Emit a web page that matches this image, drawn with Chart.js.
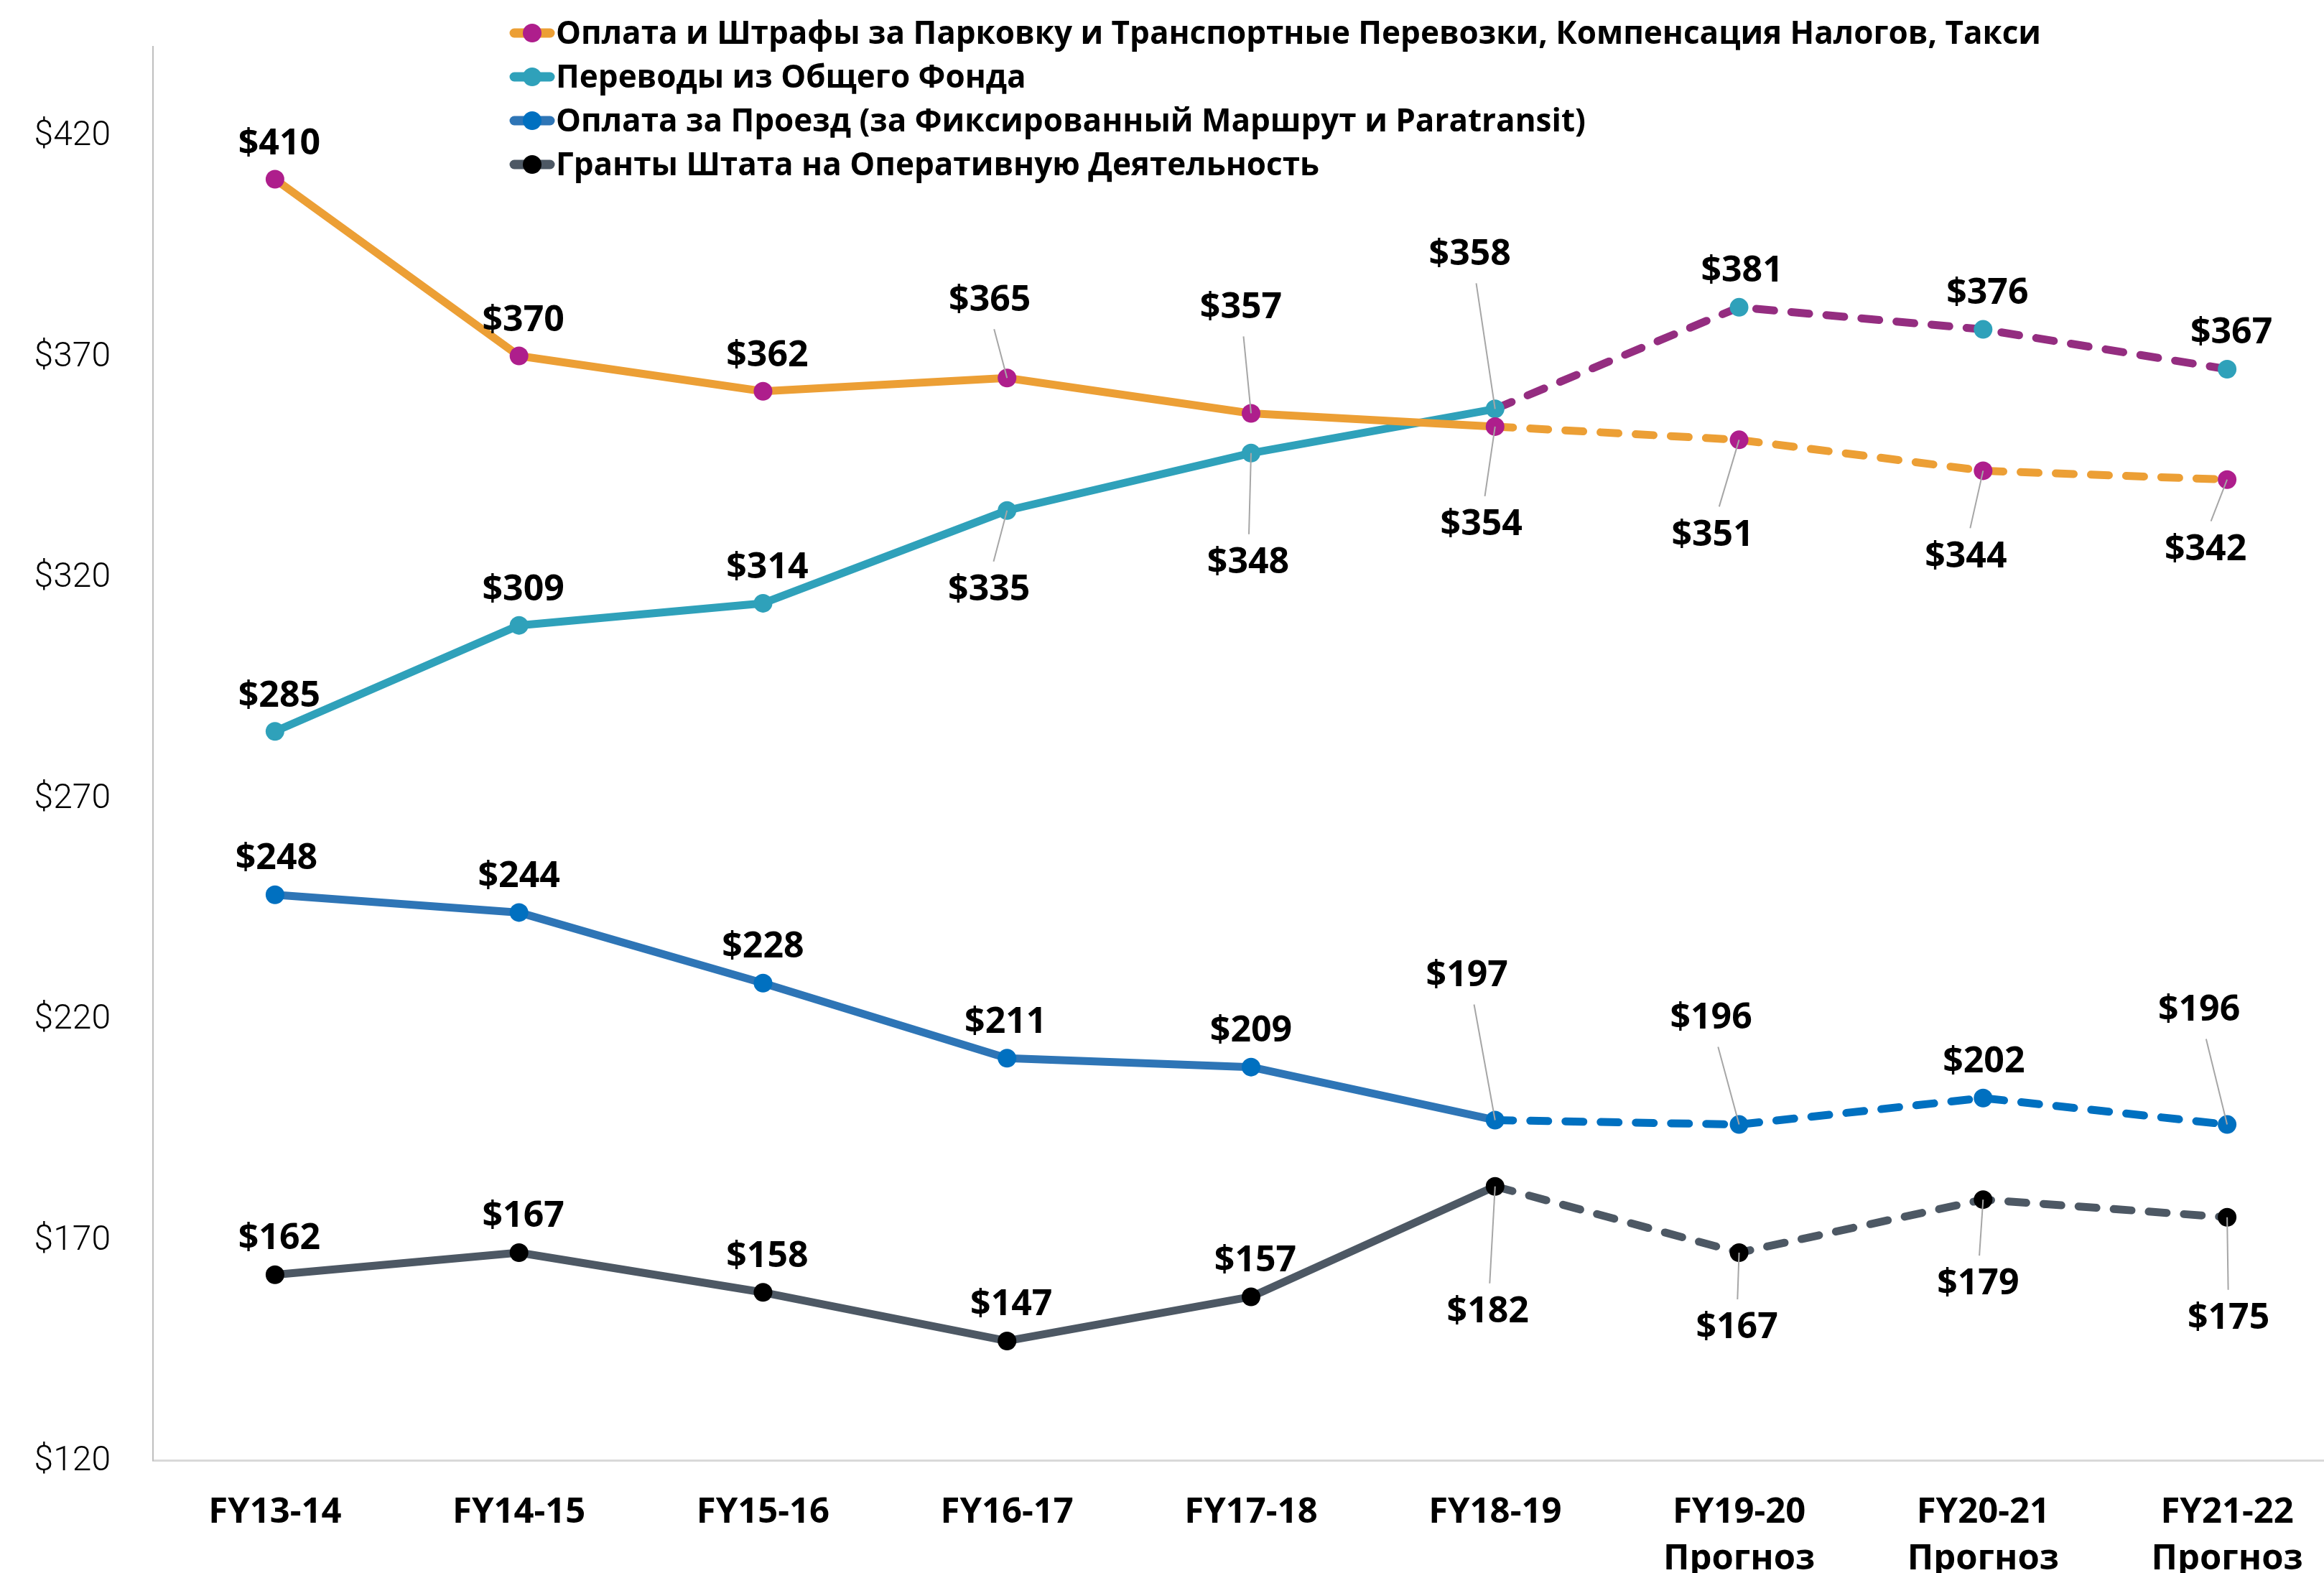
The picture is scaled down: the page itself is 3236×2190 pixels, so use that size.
<!DOCTYPE html>
<html>
<head>
<meta charset="utf-8">
<script src="https://cdn.jsdelivr.net/npm/chart.js@4.4.1/dist/chart.umd.min.js"></script>
<style>
  html, body { margin: 0; background: #fff; overflow: hidden; }
  /* the plot runs a little past the right edge, as in the original */
  #wrap { width: 3236px; height: 2190px; overflow: hidden; }
</style>
</head>
<body>
<div id="wrap"><canvas id="chart" width="3284" height="2190"></canvas></div>
<script>
// categories (forecast years get a second line)
const categories = [
  ['FY13-14'], ['FY14-15'], ['FY15-16'], ['FY16-17'], ['FY17-18'], ['FY18-19'],
  ['FY19-20', 'Прогноз'], ['FY20-21', 'Прогноз'], ['FY21-22', 'Прогноз']
];
const forecastFrom = 5; // segments after this index are dashed

const seriesNames = [
  'Оплата и Штрафы за Парковку и Транспортные Перевозки, Компенсация Налогов, Такси',
  'Переводы из Общего Фонда',
  'Оплата за Проезд (за Фиксированный Маршрут и Paratransit)',
  'Гранты Штата на Оперативную Деятельность'
];
const parkingFees = [410, 370, 362, 365, 357, 354, 351, 344, 342];
const generalFund = [285, 309, 314, 335, 348, 358, 381, 376, 367];
const fares = [248, 244, 228, 211, 209, 197, 196, 202, 196];
const stateGrants = [162, 167, 158, 147, 157, 182, 167, 179, 175];

const yTicks = [120, 170, 220, 270, 320, 370, 420];

// where each value label sits relative to its point (px)
const labelOffsets = [
  [[6, -49], [6, -49], [6, -49], [-24, -108], [-14, -147], [-19, 137], [-37, 133], [-24, 120], [-30, 98]],
  [[6, -49], [6, -49], [6, -49], [-25, 111], [-4, 153], [-35, -215], [4, -50], [6, -50], [6, -50]],
  [[2, -50], [0, -50], [0, -50], [-2, -50], [0, -50], [-39, -201], [-39, -148], [1, -50], [-39, -159]],
  [[6, -50], [6, -50], [6, -50], [6, -50], [6, -50], [-10, 175], [-3, 105], [-7, 118], [2, 141]]
];

const styles = [
  { line: '#EC9F35', dash: '#EC9F35', point: '#AE1E8C' },
  { line: '#2FA1BA', dash: '#942D80', point: '#2FA1BA' },
  { line: '#2E75B6', dash: '#0070C0', point: '#0070C0' },
  { line: '#4D5864', dash: '#4D5864', point: '#000000' }
];

function makeDataset(i, values) {
  const s = styles[i];
  return {
    label: seriesNames[i],
    data: values,
    borderColor: s.line,
    backgroundColor: s.point,
    borderWidth: 11,
    borderCapStyle: 'round',
    borderJoinStyle: 'round',
    pointRadius: 13,
    pointHoverRadius: 13,
    pointBackgroundColor: s.point,
    pointBorderWidth: 0,
    tension: 0,
    segment: {
      borderColor: ctx => ctx.p0DataIndex >= forecastFrom ? s.dash : s.line,
      borderDash: ctx => ctx.p0DataIndex >= forecastFrom ? [25, 24] : []
    }
  };
}

const valueLabels = {
  id: 'valueLabels',
  afterDatasetsDraw(chart) {
    const ctx = chart.ctx;
    ctx.save();
    ctx.font = 'bold 50px "Open Sans"';
    ctx.textAlign = 'center';
    ctx.textBaseline = 'middle';
    chart.data.datasets.forEach((ds, di) => {
      const meta = chart.getDatasetMeta(di);
      meta.data.forEach((pt, i) => {
        const [dx, dy] = labelOffsets[di][i];
        const lx = pt.x + dx, ly = pt.y + dy;
        if (Math.abs(dy) > 90) {
          const sy = ly + (dy > 0 ? -1 : 1) * 40;
          ctx.strokeStyle = '#A6A6A6';
          ctx.lineWidth = 2;
          ctx.beginPath();
          ctx.moveTo(lx - dx * 0.25, sy);
          ctx.lineTo(pt.x, pt.y);
          ctx.stroke();
        }
        ctx.fillStyle = '#000';
        ctx.fillText('$' + ds.data[i], lx, ly);
      });
    });
    ctx.restore();
  }
};

const legendBox = {
  id: 'legendBox',
  afterDraw(chart) {
    const ctx = chart.ctx;
    ctx.save();
    ctx.font = 'bold 44px "Open Sans"';
    ctx.textBaseline = 'middle';
    ctx.textAlign = 'left';
    seriesNames.forEach((name, i) => {
      const y = 46 + i * 61;
      ctx.strokeStyle = styles[i].line;
      ctx.lineWidth = 13;
      ctx.lineCap = 'round';
      ctx.beginPath();
      ctx.moveTo(716, y);
      ctx.lineTo(766, y);
      ctx.stroke();
      ctx.fillStyle = styles[i].point;
      ctx.beginPath();
      ctx.arc(741, y, 13, 0, Math.PI * 2);
      ctx.fill();
      ctx.fillStyle = '#000';
      ctx.fillText(name, 774, y + 2);
    });
    ctx.restore();
  }
};

new Chart(document.getElementById('chart'), {
  type: 'line',
  data: {
    labels: categories,
    datasets: [
      makeDataset(0, parkingFees),
      makeDataset(1, generalFund),
      makeDataset(2, fares),
      makeDataset(3, stateGrants)
    ]
  },
  options: {
    responsive: false,
    devicePixelRatio: 1,
    animation: false,
    layout: { padding: { left: 0, top: 65, right: 0, bottom: 0 } },
    plugins: {
      legend: { display: false },
      tooltip: { enabled: false }
    },
    scales: {
      x: {
        offset: true,
        grid: { display: false },
        border: { display: true, color: '#D9D9D9', width: 3 },
        ticks: {
          color: '#000',
          padding: 32,
          maxRotation: 0,
          font: { family: 'Open Sans', size: 49, weight: 'bold', lineHeight: 1.33 }
        },
        afterFit: scale => {
          scale.height = 157;
          scale.paddingLeft = 0;
          scale.paddingRight = 0;
        }
      },
      y: {
        min: 120,
        max: 440,
        grid: { display: false },
        border: { display: true, color: '#BFBFBF', width: 2 },
        afterBuildTicks: scale => { scale.ticks = yTicks.map(v => ({ value: v })); },
        ticks: {
          color: '#000',
          padding: 51,
          font: { family: '"Segoe UI Light", "Roboto Light", Roboto, "Open Sans"', size: 48, weight: 300 },
          callback: v => '$' + v
        },
        afterFit: scale => {
          scale.width = 213;
          scale.paddingTop = 0;
          scale.paddingBottom = 0;
        }
      }
    }
  },
  plugins: [valueLabels, legendBox]
});
</script>
</body>
</html>
